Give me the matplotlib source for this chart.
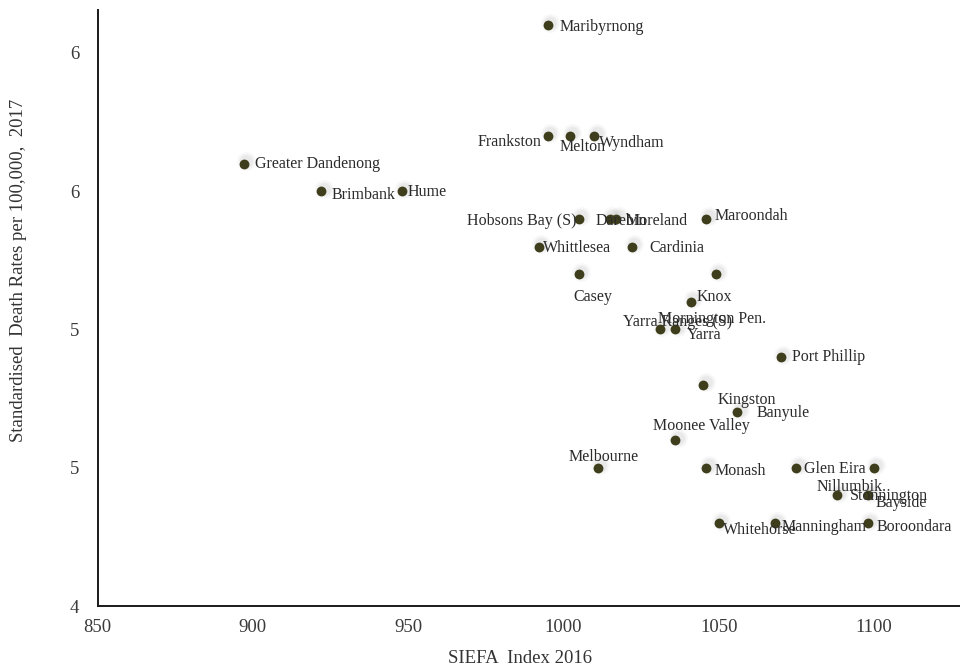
import matplotlib
matplotlib.use("Agg")
import matplotlib.pyplot as plt
from matplotlib.transforms import ScaledTranslation

plt.rcParams['font.family'] = ['Liberation Serif', 'DejaVu Serif']

# Local government areas: SIEFA index vs standardised death rate
councils = [
    "Maribyrnong", "Frankston", "Melton", "Wyndham", "Greater Dandenong",
    "Brimbank", "Hume", "Hobsons Bay (S)", "Darebin", "Moreland",
    "Maroondah", "Whittlesea", "Cardinia", "Casey", "Knox",
    "Mornington Pen.", "Yarra Ranges (S)", "Yarra", "Port Phillip", "Kingston",
    "Banyule", "Moonee Valley", "Melbourne", "Monash", "Glen Eira",
    "Nillumbik.", "Stonnington", "Bayside", "Whitehorse", "Manningham",
    "Boroondara",
]
siefa_2016 = [
    995, 995, 1002, 1010, 897,
    922, 948, 1005, 1015, 1017,
    1046, 992, 1022, 1005, 1049,
    1041, 1031, 1036, 1070, 1045,
    1056, 1036, 1011, 1046, 1075,
    1100, 1088, 1098, 1050, 1068,
    1098,
]
death_rate_2017 = [
    6.1, 5.7, 5.7, 5.7, 5.6,
    5.5, 5.5, 5.4, 5.4, 5.4,
    5.4, 5.3, 5.3, 5.2, 5.2,
    5.1, 5.0, 5.0, 4.9, 4.8,
    4.7, 4.6, 4.5, 4.5, 4.5,
    4.5, 4.4, 4.4, 4.3, 4.3,
    4.3,
]
y_ticks = [4, 4.5, 5, 5.5, 6]
y_tick_labels = ["4", "5", "5", "6", "6"]
x_ticks = [850, 900, 950, 1000, 1050, 1100]
x_tick_labels = ["850", "900", "950", "1000", "1050", "1100"]

# label placement: (dx px, dy px downward, horizontal alignment)
label_place = [
    (12, 2, "left"), (-6, 6, "right"), (-10, 11, "left"), (5, 7, "left"), (11, 0, "left"),
    (10, 4, "left"), (6, 1, "left"), (-2, 2, "right"), (-14, 2, "left"), (9, 2, "left"),
    (8, -3, "left"), (4, 1, "left"), (18, 1, "left"), (14, 23, "center"), (-1, 23, "center"),
    (-33, 17, "left"), (-37, -7, "left"), (12, 6, "left"), (11, 0, "left"), (14, 15, "left"),
    (19, 1, "left"), (26, -14, "center"), (6, -11, "center"), (8, 3, "left"), (8, 1, "left"),
    (-22, 19, "center"), (13, 1, "left"), (8, 8, "left"), (4, 7, "left"), (7, 4, "left"),
    (9, 4, "left"),
]

DPI = 100
fig = plt.figure(figsize=(9.6, 6.7), dpi=DPI)
ax = fig.add_axes([0.1016, 0.0955, 0.8984, 0.8895])

# soft grey shadow behind each marker, shifted up and to the right
for size, alpha in [(190, 0.05), (130, 0.07), (85, 0.10)]:
    shift = ScaledTranslation(2.5 / DPI, 2.5 / DPI, fig.dpi_scale_trans)
    ax.scatter(siefa_2016, death_rate_2017, s=size, color="#9a9a9a", alpha=alpha,
               linewidths=0, transform=ax.transData + shift, zorder=2)

ax.scatter(siefa_2016, death_rate_2017, s=50, color="#3e3d1c", linewidths=0, zorder=3)

px2pt = 72.0 / DPI
for name, x, y, (dx, dy, ha) in zip(councils, siefa_2016, death_rate_2017, label_place):
    ax.annotate(name, (x, y), xytext=(dx * px2pt, -dy * px2pt), textcoords="offset points",
                ha=ha, va="center", fontsize=11.5, color="#2b2b2b", zorder=4)

ax.set_xlim(850, 1127.7)
ax.set_ylim(4, 6.155)
ax.set_xticks(x_ticks)
ax.set_xticklabels(x_tick_labels)
ax.set_yticks(y_ticks)
ax.set_yticklabels(y_tick_labels)
ax.tick_params(axis="both", length=0, labelsize=13.5, labelcolor="#3a3a3a")
ax.tick_params(axis="y", pad=13)
ax.tick_params(axis="x", pad=9)

for side in ("top", "right"):
    ax.spines[side].set_visible(False)
for side in ("left", "bottom"):
    ax.spines[side].set_linewidth(1.4)
    ax.spines[side].set_color("#1a1a1a")

ax.set_xlabel("SIEFA  Index 2016", fontsize=13.5, color="#333333")
ax.set_ylabel("Standardised  Death Rates per 100,000,  2017", fontsize=13.5, color="#333333")
ax.xaxis.set_label_coords(0.4896, -0.074)
ax.yaxis.set_label_coords(-0.0815, 0.564)

fig.savefig("out.png", dpi=DPI)
